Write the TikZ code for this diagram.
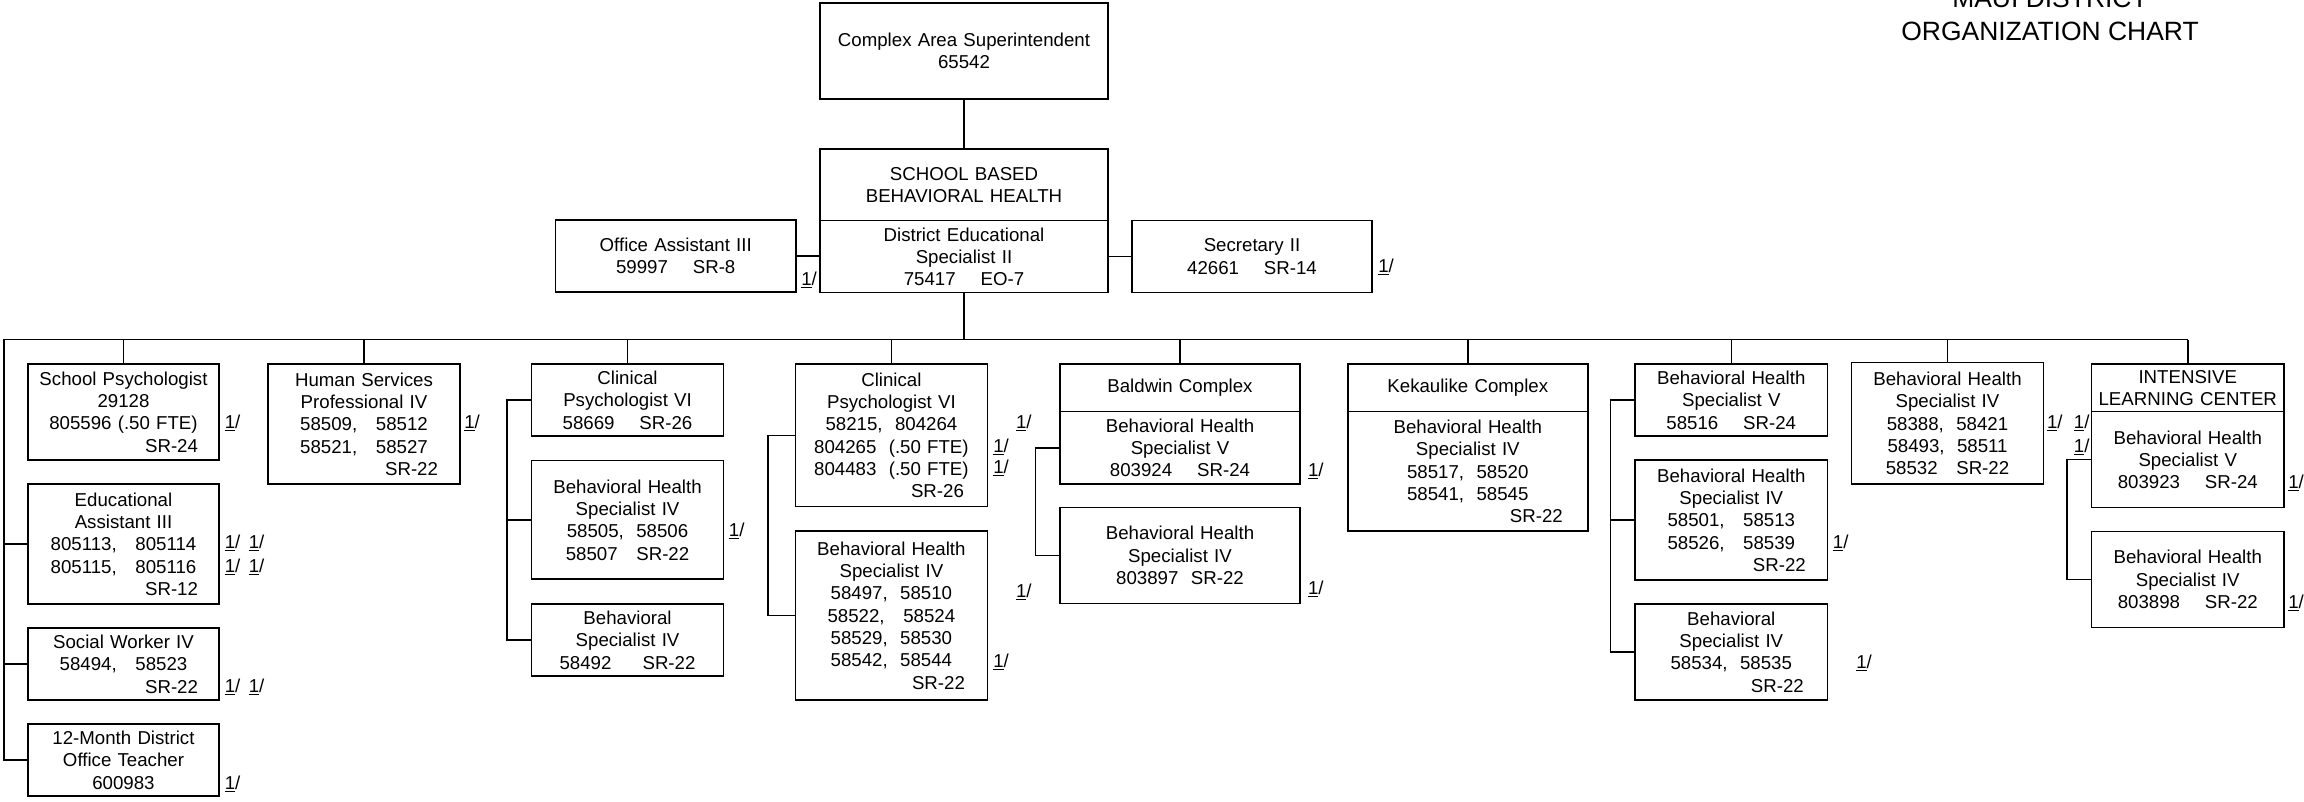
\documentclass[tikz,border=0pt]{standalone}
\usepackage{fontspec}
\setmainfont{Liberation Sans}
\newlength\pxl
\setlength\pxl{0.6806pt}
\newcommand\rgt[2]{\makebox[#1\pxl][r]{#2}}
\newcommand\onesl{\underline{1}/}
\newcommand\orgbox[7]{%
  \pgfmathsetmacro\orgW{(#4-(#2))*0.6806}%
  \pgfmathsetmacro\orgH{(#5-(#3))*0.6806}%
  \pgfmathsetmacro\orgT{#6*0.6806}%
  \node[ob, minimum width=\orgW pt, minimum height=\orgH pt, text width=\orgT pt] (#1) at ({(#2+#4)/2},{(#3+#5)/2}) {#7};}
\begin{document}
\begin{tikzpicture}[x=0.6806pt,y=-0.6806pt,
  ob/.style={draw, line width=1pt, inner sep=0pt, align=center, font=\fontsize{12.7}{15.2}\selectfont},
  con/.style={line width=1pt},
  lbl/.style={inner sep=0pt, anchor=west, font=\fontsize{12.7}{15.2}\selectfont},
  ttl/.style={inner sep=0pt, anchor=base, font=\fontsize{18}{22}\selectfont}]
\useasboundingbox (0,0) rectangle (2304,801);
\fill[white] (0,0) rectangle (2304,801);
\clip (0,0) rectangle (2304,801);

% title
\node[ttl] (t1) at (2050,7.3) {MAUI DISTRICT};
\node[ttl] (t2) at (2050,40) {ORGANIZATION CHART};

% top
\orgbox{cas}{820}{3}{1108}{99}{284}{Complex Area Superintendent\\65542}
\orgbox{sbh}{820}{149}{1108}{220.7}{284}{SCHOOL BASED\\BEHAVIORAL HEALTH}
\orgbox{sbb}{820}{220.7}{1108}{292.7}{284}{District Educational\\Specialist II\\75417~~~~EO-7}
\orgbox{oa}{555.5}{220}{796}{292}{236}{Office Assistant III\\59997~~~~SR-8}
\orgbox{sec}{1132}{220.7}{1372}{292.7}{236}{Secretary II\\42661~~~~SR-14}

% row
\orgbox{sp}{28}{364}{219}{460}{187}{School Psychologist\\29128\\805596 (.50 FTE)\\\rgt{149}{SR-24}}
\orgbox{ea}{28}{484}{219}{604}{187}{Educational\\Assistant III\\805113,~~~805114\\805115,~~~805116\\\rgt{149}{SR-12}}
\orgbox{sw}{28}{628}{219}{700}{187}{Social Worker IV\\58494,~~~58523\\\rgt{149}{SR-22}}
\orgbox{mt}{28}{724}{219}{796}{187}{12-Month District\\Office Teacher\\600983}
\orgbox{hs}{268}{364}{460}{484}{188}{Human Services\\Professional IV\\58509,~~~58512\\58521,~~~58527\\\rgt{148}{SR-22}}
\orgbox{cp1}{531.6}{364}{723.5}{436}{188}{Clinical\\Psychologist VI\\58669~~~~SR-26}
\orgbox{bh1}{531.6}{460.7}{723.5}{579}{188}{Behavioral Health\\Specialist IV\\58505,~~58506\\58507~~~SR-22}
\orgbox{bs1}{531.6}{604}{723.5}{676}{188}{Behavioral\\Specialist IV\\58492~~~~~SR-22}
\orgbox{cp2}{795.5}{364}{987.3}{506.7}{188}{Clinical\\Psychologist VI\\58215,~~804264\\804265~~(.50 FTE)\\804483~~(.50 FTE)\\\rgt{145}{SR-26}}
\orgbox{bh2}{795.5}{531}{987.3}{700}{188}{Behavioral Health\\Specialist IV\\58497,~~58510\\58522,~~~58524\\58529,~~58530\\58542,~~58544\\\rgt{147}{SR-22}}
\orgbox{bch}{1060}{364}{1300}{411.7}{236}{Baldwin Complex}
\orgbox{bcb}{1060}{411.7}{1300}{484}{236}{Behavioral Health\\Specialist V\\803924~~~~SR-24}
\orgbox{bh3}{1060}{507.7}{1300}{603.3}{236}{Behavioral Health\\Specialist IV\\803897~~SR-22}
\orgbox{kch}{1347.8}{364}{1587.8}{411.7}{236}{Kekaulike Complex}
\orgbox{kcb}{1347.8}{411.7}{1587.8}{531}{236}{Behavioral Health\\Specialist IV\\58517,~~58520\\58541,~~58545\\\rgt{190}{SR-22}}
\orgbox{bh5}{1635}{364}{1827.6}{436}{188}{Behavioral Health\\Specialist V\\58516~~~~SR-24}
\orgbox{bh4}{1635}{460}{1827.6}{580}{188}{Behavioral Health\\Specialist IV\\58501,~~~58513\\58526,~~~58539\\\rgt{149}{SR-22}}
\orgbox{bs2}{1635}{604}{1827.6}{700}{188}{Behavioral\\Specialist IV\\58534,~~58535\\\rgt{145}{SR-22}}
\orgbox{bh6}{1851.4}{362.7}{2043.6}{484}{188}{Behavioral Health\\Specialist IV\\58388,~~58421\\58493,~~58511\\58532~~~SR-22}
\orgbox{ilh}{2091.7}{364}{2283.8}{411.7}{188}{INTENSIVE\\LEARNING CENTER}
\orgbox{ilb}{2091.7}{411.7}{2283.8}{507.7}{188}{Behavioral Health\\Specialist V\\803923~~~~SR-24}
\orgbox{bh7}{2091.7}{531.7}{2283.8}{627.3}{188}{Behavioral Health\\Specialist IV\\803898~~~~SR-22}

% connectors
\coordinate (busL) at (4,339.5);
\coordinate (busR) at (2187.75,339.5);
\draw[con] (cas.south) -- (sbh.north);
\draw[con] (oa.east) -- (oa.east -| sbb.west);
\draw[con] (sbb.east) -- (sec.west);
\draw[con] (sbb.south) -- (sbb.south |- busL);
\draw[con] (busR) -- (busL) |- (mt.west);
\draw[con] (ea.west) -- (ea.west -| busL);
\draw[con] (sw.west) -- (sw.west -| busL);
\foreach \n in {sp,hs,cp1,cp2,bch,kch,bh5,bh6,ilh}
  \draw[con] (\n.north) -- (\n.north |- busL);
\draw[con] (cp1.west) -- ++(-24,0) |- (bs1.west);
\draw[con] (bh1.west) -- ++(-24,0);
\draw[con] (cp2.west) -- ++(-27,0) |- (bh2.west);
\draw[con] (bcb.west) -- ++(-24,0) |- (bh3.west);
\draw[con] (bh5.west) -- ++(-24,0) |- (bs2.west);
\draw[con] (bh4.west) -- ++(-24,0);
\draw[con] (ilb.west) -- ++(-24,0) |- (bh7.west);

% footnote marks
\node[lbl] (m1) at (801,280) {\onesl};
\node[lbl] (m2) at (1378,267) {\onesl};
\node[lbl] (m3) at (224.5,423) {\onesl};
\node[lbl] (m4) at (464,423) {\onesl};
\node[lbl] (m5) at (224.5,543) {\onesl};
\node[lbl] (m6) at (248.5,543) {\onesl};
\node[lbl] (m7) at (224.5,567) {\onesl};
\node[lbl] (m8) at (248.5,567) {\onesl};
\node[lbl] (m9) at (224.5,687) {\onesl};
\node[lbl] (m10) at (248.5,687) {\onesl};
\node[lbl] (m11) at (224.5,784) {\onesl};
\node[lbl] (m12) at (728.6,531) {\onesl};
\node[lbl] (m13) at (1015.7,423) {\onesl};
\node[lbl] (m14) at (993,446.7) {\onesl};
\node[lbl] (m15) at (993,468) {\onesl};
\node[lbl] (m16) at (1015.7,592) {\onesl};
\node[lbl] (m17) at (993,662) {\onesl};
\node[lbl] (m18) at (1307.7,471) {\onesl};
\node[lbl] (m19) at (1307.7,589) {\onesl};
\node[lbl] (m20) at (1832.6,543) {\onesl};
\node[lbl] (m21) at (1856,663) {\onesl};
\node[lbl] (m22) at (2046.8,423) {\onesl};
\node[lbl] (m23) at (2073.6,423) {\onesl};
\node[lbl] (m24) at (2073.6,447) {\onesl};
\node[lbl] (m25) at (2288,483) {\onesl};
\node[lbl] (m26) at (2288,603) {\onesl};
\end{tikzpicture}
\end{document}
